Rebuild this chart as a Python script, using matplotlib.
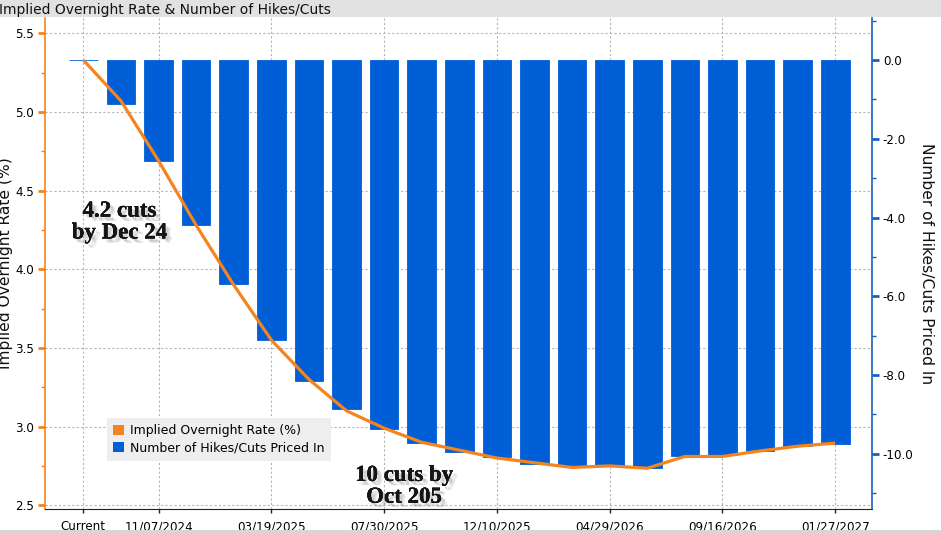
import matplotlib
matplotlib.use("Agg")
import matplotlib.pyplot as plt
import matplotlib.patheffects as pe
from matplotlib.patches import Patch, Rectangle
from matplotlib.ticker import MultipleLocator, FormatStrFormatter

plt.rcParams['axes.unicode_minus'] = False
plt.rcParams['font.family'] = ['DejaVu Sans']

# ---- data ----
meetings = ["Current", "09/18/2024", "11/07/2024", "12/18/2024", "01/29/2025",
            "03/19/2025", "05/07/2025", "06/18/2025", "07/30/2025", "09/17/2025",
            "10/29/2025", "12/10/2025", "01/28/2026", "03/18/2026", "04/29/2026",
            "06/17/2026", "07/29/2026", "09/16/2026", "10/28/2026", "12/09/2026",
            "01/27/2027"]
hikes_cuts = [0.0, -1.11, -2.56, -4.19, -5.70, -7.11, -8.14, -8.86, -9.36, -9.72,
              -9.96, -10.08, -10.25, -10.30, -10.28, -10.35, -10.05, -10.03, -9.93,
              -9.81, -9.75]
implied_rate = [5.33, 5.07, 4.69, 4.28, 3.90, 3.55, 3.30, 3.10, 2.99, 2.90,
                2.85, 2.80, 2.77, 2.74, 2.75, 2.735, 2.81, 2.81, 2.845, 2.875, 2.895]
tick_idx = [0, 2, 5, 8, 11, 14, 17, 20]
title = "Implied Overnight Rate & Number of Hikes/Cuts"
left_label = "Implied Overnight Rate (%)"
right_label = "Number of Hikes/Cuts Priced In"
series_names = ["Implied Overnight Rate (%)", "Number of Hikes/Cuts Priced In"]
note1 = "4.2 cuts\nby Dec 24"
note2 = "10 cuts by\nOct 205"

ORANGE = "#f5841f"
BLUE = "#005fd7"
AXBLUE = "#1b5fbf"

W, H = 941, 534
fig = plt.figure(figsize=(W / 100, H / 100), dpi=100)
fig.patch.set_facecolor("white")

# header / footer bands
fig.patches.append(Rectangle((0, 1 - 17 / H), 1, 17 / H, transform=fig.transFigure,
                             facecolor="#e1e1e1", edgecolor="none", zorder=0))
fig.patches.append(Rectangle((0, 0), 1, 4 / H, transform=fig.transFigure,
                             facecolor="#d6d6d6", edgecolor="none", zorder=0))
fig.text(-0.001, 1 - 10 / H, title, ha="left", va="center", fontsize=10, color="#111111")

ax = fig.add_axes([45 / W, 1 - 509 / H, (871.7 - 45) / W, (509 - 18) / H])
ax2 = ax.twinx()

x = list(range(len(meetings)))

# bars on right axis
ax2.bar(x, hikes_cuts, width=0.76, color=BLUE, edgecolor=BLUE, linewidth=0.6, zorder=2)
# line on left-axis scale, drawn above bars
ax2.plot(x, implied_rate, color=ORANGE, lw=2.3, transform=ax.transData, zorder=3,
         solid_capstyle="butt")

ax.set_xlim(-1.02, 20.97)
ax.set_ylim(2.476, 5.597)
ax2.set_ylim(-11.40, 1.066)

ax.set_xticks(tick_idx)
ax.set_xticklabels([meetings[i] for i in tick_idx], fontsize=8.6)
ax.tick_params(axis="x", length=3, width=1, color="#222222", pad=5)

ax.yaxis.set_major_locator(MultipleLocator(0.5))
ax.yaxis.set_minor_locator(MultipleLocator(0.25))
ax.yaxis.set_major_formatter(FormatStrFormatter("%.1f"))
ax.tick_params(axis="y", which="major", length=5, width=2, color=ORANGE, labelsize=8.6, pad=3)
ax.tick_params(axis="y", which="minor", length=3, width=1, color=ORANGE)

ax2.yaxis.set_major_locator(MultipleLocator(2.0))
ax2.yaxis.set_minor_locator(MultipleLocator(1.0))
ax2.yaxis.set_major_formatter(FormatStrFormatter("%.1f"))
ax2.tick_params(axis="y", which="major", length=5, width=2, color=AXBLUE, labelsize=8.6, pad=3)
ax2.tick_params(axis="y", which="minor", length=3, width=1, color=AXBLUE)

ax.grid(True, which="major", linestyle=(0, (2, 2)), color="#b5b5b5", lw=0.8)
ax.set_axisbelow(True)

for a in (ax, ax2):
    a.spines["top"].set_visible(False)
ax.spines["left"].set_color(ORANGE)
ax.spines["left"].set_linewidth(1.2)
ax2.spines["left"].set_visible(False)
ax2.spines["right"].set_color(AXBLUE)
ax2.spines["right"].set_linewidth(1.2)
ax.spines["right"].set_visible(False)
ax.spines["bottom"].set_color("#222222")
ax2.spines["bottom"].set_visible(False)

ax.set_ylabel(left_label, fontsize=11.2, color="#111111")
ax.yaxis.set_label_coords(-0.039, 0.5)
ax2.set_ylabel(right_label, fontsize=11.2, color="#111111", rotation=270, va="center")
ax2.yaxis.set_label_coords(1.0665, 0.5)

handles = [Patch(facecolor=ORANGE, edgecolor="none"), Patch(facecolor=BLUE, edgecolor="none")]
leg = ax2.legend(handles, series_names, loc="upper left",
                 bbox_to_anchor=(106.7 / W, 1 - 418 / H), bbox_transform=fig.transFigure,
                 borderaxespad=0, fontsize=9.0, handlelength=0.9, handleheight=0.9,
                 handletextpad=0.45, borderpad=0.5, labelspacing=0.32,
                 fancybox=False, framealpha=1.0, facecolor="#eeeeee", edgecolor="none")
leg.set_zorder(5)

shadow = [pe.withSimplePatchShadow(offset=(4, -3), shadow_rgbFace="#999999", alpha=0.15),
          pe.withSimplePatchShadow(offset=(3, -3), shadow_rgbFace="#888888", alpha=0.2),
          pe.withSimplePatchShadow(offset=(2, -2), shadow_rgbFace="#888888", alpha=0.2),
          pe.Normal()]
ax2.text(0.96, 4.30, note1, transform=ax.transData, ha="center", va="center",
         multialignment="center", fontsize=16.5, fontweight="bold", family="Liberation Serif",
         color="#151515", linespacing=1.05, zorder=6, path_effects=shadow)
ax2.text(8.53, 2.62, note2, transform=ax.transData, ha="center", va="center",
         multialignment="center", fontsize=16.5, fontweight="bold", family="Liberation Serif",
         color="#151515", linespacing=1.05, zorder=6, path_effects=shadow)

fig.savefig("out.png", dpi=100)
